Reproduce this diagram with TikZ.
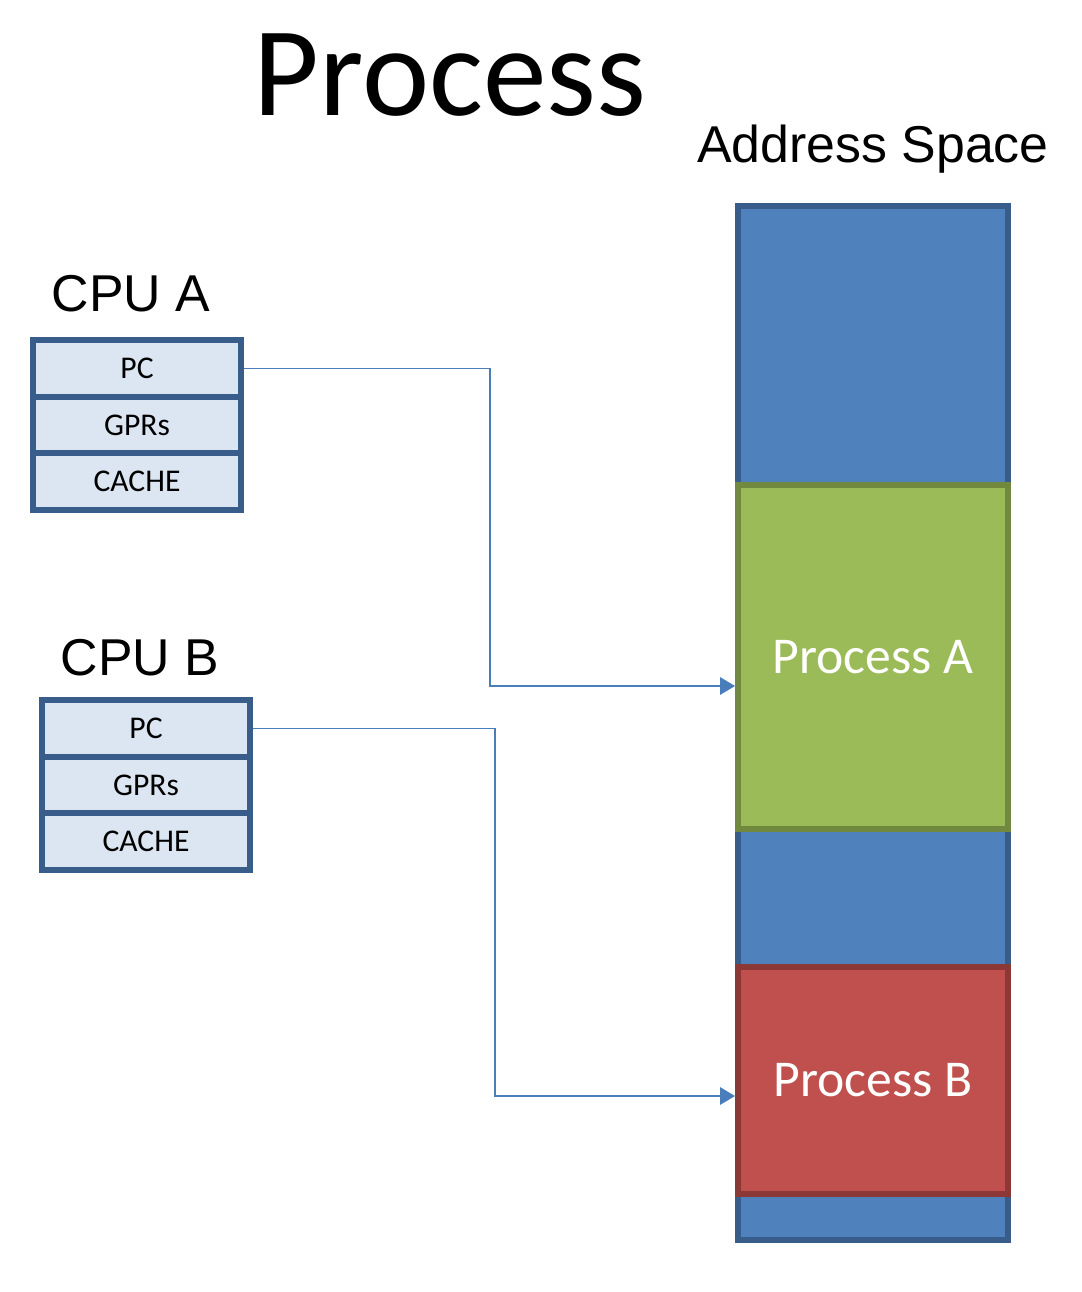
\documentclass[tikz,border=0pt]{standalone}
\usepackage{fontspec}
\setmainfont{Carlito}
\newfontfamily\arialfont{Liberation Sans}
\usetikzlibrary{arrows.meta}
\definecolor{cellfill}{HTML}{DCE6F2}
\definecolor{blueedge}{HTML}{385D8A}
\definecolor{spaceblue}{HTML}{4F81BD}
\definecolor{procgreen}{HTML}{9BBB59}
\definecolor{greenedge}{HTML}{71893F}
\definecolor{procred}{HTML}{C0504D}
\definecolor{rededge}{HTML}{8C3836}
\definecolor{linkblue}{HTML}{4A7EBB}
\tikzset{
	cell/.style={draw=blueedge, fill=cellfill, line width=0.12cm, minimum width=4.16cm, minimum height=1.14cm, inner sep=0pt, font=\fontsize{18}{20}\selectfont},
	segment/.style={line width=0.12cm, minimum width=5.4cm, inner sep=0pt, text=white, font=\fontsize{29.4}{32}\selectfont},
	cpulabel/.style={anchor=base, font=\arialfont\fontsize{29.5}{32}\selectfont},
	link/.style={draw=linkblue, line width=0.6pt, -{Triangle[length=8.5pt,width=10pt]}},
}
\begin{document}
\begin{tikzpicture}[x=0.02cm,y=-0.02cm]
			\useasboundingbox (0,0) rectangle (1082,1292);
			\node[anchor=base, font=\fontsize{72.5}{80}\selectfont] (title) at (450,115) {Process};
			\node[cpulabel] (spacelabel) at (873,162) {Address Space};
			% address space column
			\node[segment, fill=spaceblue, draw=blueedge, minimum height=20.7cm] (space) at (873,723) {};
			\node[segment, fill=procgreen, draw=greenedge, minimum height=6.88cm] (procA) at (873,657) {Process A};
			\node[segment, fill=procred, draw=rededge, minimum height=4.54cm] (procB) at (873,1080.5) {Process B};
			% cpus
			\node[cpulabel] (cpuA) at (131,311) {CPU A};
			\node[cpulabel] (cpuB) at (140,675) {CPU B};
			\foreach \c/\x/\y in {A/137/368.5,B/146/728.5} {
					\node[cell] (pc\c) at (\x,\y) {PC};
					\node[cell] (gpr\c) at (\x,\y+57) {GPRs};
					\node[cell] (cache\c) at (\x,\y+113) {CACHE};
				}
			% program counters
			\coordinate (bendA) at (490,686);
			\coordinate (bendB) at (495,1096);
			\draw[link] (pcA.east) -| (bendA) -- (procA.west |- bendA);
			\draw[link] (pcB.east) -| (bendB) -- (procB.west |- bendB);
		\end{tikzpicture}
\end{document}
